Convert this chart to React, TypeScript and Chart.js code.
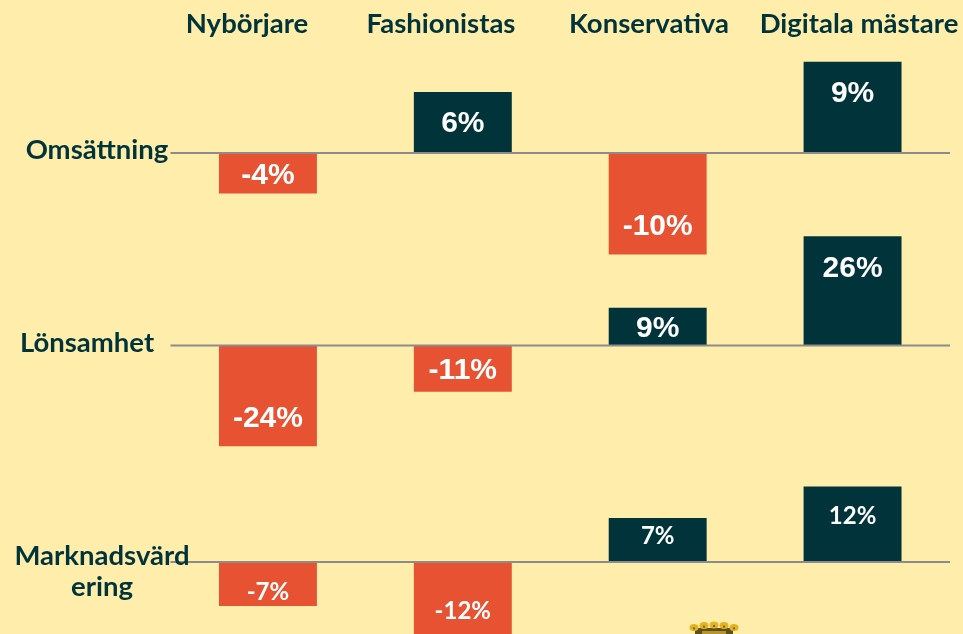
import React, { useEffect, useRef } from "react";
import { Chart, registerables } from "chart.js";

Chart.register(...registerables);

const categories = ["Nybörjare", "Fashionistas", "Konservativa", "Digitala mästare"];
const omsattning = [-4, 6, -10, 9];
const lonsamhet = [-24, -11, 9, 26];
const marknadsvardering = [-7, -12, 7, 12];

const BG = "#FEEDAB";
const DARK = "#00343A";
const ORANGE = "#E65232";
const LINE = "#8C8C8C";
const W = 963;
const H = 634;
const HEAD = "bold 27.5px Lato";

const rows = [
  { id: "y1", name: "Omsättning", values: omsattning, zero: 153, ppu: 10.15, font: "bold 30px 'Liberation Sans'", near: 0, far: 30, lines: ["Omsättning"], lx: 97, ly: [150] },
  { id: "y2", name: "Lönsamhet", values: lonsamhet, zero: 345.5, ppu: 4.2, font: "bold 30px 'Liberation Sans'", near: 0, far: 30, lines: ["Lönsamhet"], lx: 87, ly: [343] },
  { id: "y3", name: "Marknadsvärdering", values: marknadsvardering, zero: 562, ppu: 6.3, font: "bold 24px Lato", near: 16, far: 28, lines: ["Marknadsvärd", "ering"], lx: 102, ly: [556, 587] },
];
const headX = [247, 441, 649, 859];

function colors(values: number[]) {
  return values.map((v) => (v < 0 ? ORANGE : DARK));
}

const overlay = {
  id: "overlay",
  afterDatasetsDraw(chart: any) {
    const { ctx, chartArea } = chart;
    ctx.save();
    // zero lines
    ctx.strokeStyle = LINE;
    ctx.lineWidth = 2;
    rows.forEach((r) => {
      const y = chart.scales[r.id].getPixelForValue(0);
      ctx.beginPath();
      ctx.moveTo(chartArea.left, y);
      ctx.lineTo(chartArea.right, y);
      ctx.stroke();
    });
    // value labels
    ctx.textAlign = "center";
    ctx.textBaseline = "middle";
    ctx.fillStyle = "#FFFFFF";
    rows.forEach((r, ri) => {
      ctx.font = r.font;
      const meta = chart.getDatasetMeta(ri);
      r.values.forEach((v, i) => {
        const bar = meta.data[i];
        const base = chart.scales[r.id].getPixelForValue(0);
        const h = Math.abs(bar.y - base);
        const off = h < 50 ? (r.near || h / 2) : r.far;
        const y = v < 0 ? bar.y - off + 2 : bar.y + off + 2;
        ctx.fillText(`${v}%`, bar.x, y);
      });
    });
    // column and row names
    ctx.fillStyle = DARK;
    ctx.font = HEAD;
    categories.forEach((c, i) => ctx.fillText(c, headX[i], 24));
    rows.forEach((r) => {
      r.lines.forEach((t, i) => ctx.fillText(t, r.lx, r.ly[i]));
    });
    // crown of the emblem, cut by the page edge
    const cx = 714;
    ctx.fillStyle = "#5E4F1E";
    ctx.fillRect(cx - 19, 628, 38, 6);
    ctx.fillStyle = "#B8952A";
    ctx.fillRect(cx - 12, 631, 24, 3);
    [-2, -1, 0, 1, 2].forEach((k) => {
      const x = cx + k * 10;
      const y = 625 + k * k * 0.6;
      ctx.fillStyle = "#E3B41F";
      ctx.beginPath();
      ctx.ellipse(x, y, 4.5, 3.5, 0, 0, Math.PI * 2);
      ctx.fill();
      ctx.fillStyle = "#7A6420";
      ctx.fillRect(x - 1, y, 2, 2);
    });
    ctx.restore();
  },
};

export default function App() {
  const ref = useRef<HTMLCanvasElement>(null);
  useEffect(() => {
    document.body.style.margin = "0";
    document.body.style.background = BG;
    const yScales: any = {};
    rows.forEach((r) => {
      yScales[r.id] = {
        display: false,
        min: -(H - r.zero) / r.ppu,
        max: r.zero / r.ppu,
      };
    });
    const chart = new Chart(ref.current as HTMLCanvasElement, {
      type: "bar",
      data: {
        labels: categories,
        datasets: rows.map((r) => ({
          label: r.name,
          data: r.values,
          yAxisID: r.id,
          backgroundColor: colors(r.values),
          grouped: false,
          categoryPercentage: 1,
          barPercentage: 98 / 195,
        })),
      } as any,
      options: {
        animation: false,
        responsive: false,
        layout: { padding: { left: 170.5, right: 13, top: 0, bottom: 0 } },
        plugins: { legend: { display: false }, tooltip: { enabled: false } },
        scales: {
          x: { display: false },
          ...yScales,
        },
      },
      plugins: [overlay],
    });
    return () => chart.destroy();
  }, []);
  return (
    <div style={{ width: W, height: H, background: BG, overflow: "hidden" }}>
      <canvas ref={ref} width={W} height={H} style={{ display: "block" }} />
    </div>
  );
}
